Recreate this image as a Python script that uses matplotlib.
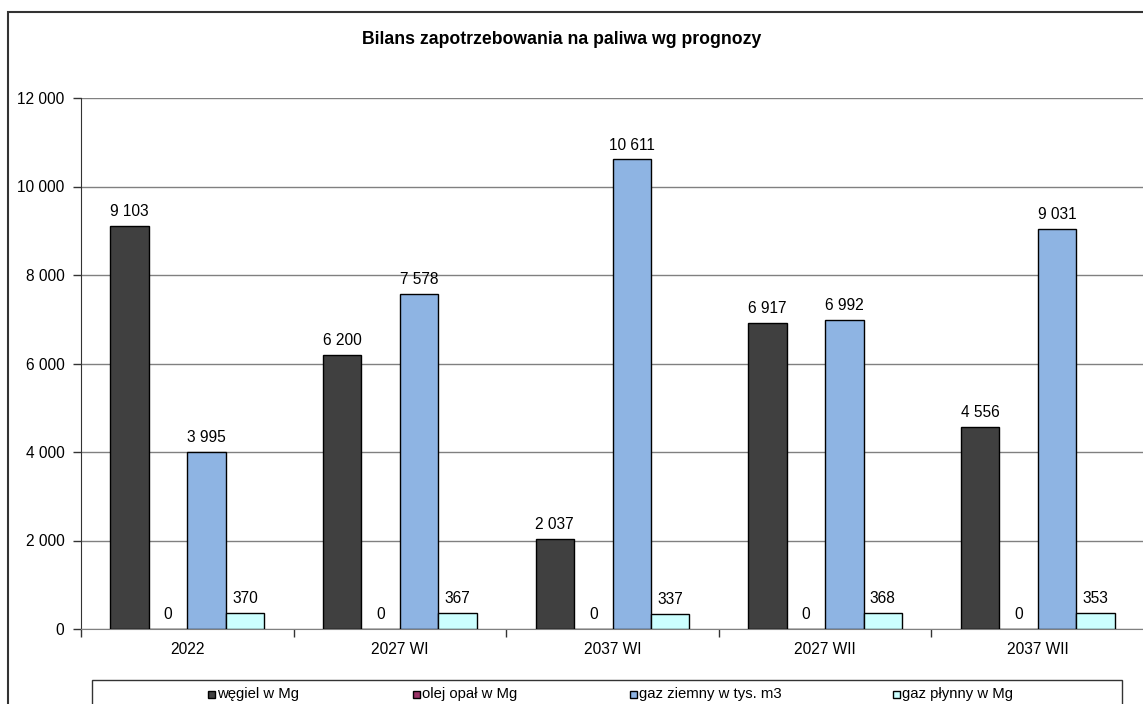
import matplotlib
matplotlib.use("Agg")
import matplotlib.pyplot as plt
from matplotlib.patches import Rectangle
from matplotlib.ticker import FuncFormatter, FixedLocator
import numpy as np

plt.rcParams['font.family'] = ['Liberation Sans', 'DejaVu Sans']

categories = ['2022', '2027 WI', '2037 WI', '2027 WII', '2037 WII']
wegiel = [9103, 6200, 2037, 6917, 4556]
olej = [0, 0, 0, 0, 0]
gaz_ziemny = [3995, 7578, 10611, 6992, 9031]
gaz_plynny = [370, 367, 337, 368, 353]
series_labels = ['węgiel w Mg', 'olej opał w Mg', 'gaz ziemny w tys. m3', 'gaz płynny w Mg']
colors = ['#404040', '#993366', '#8EB4E3', '#CCFFFF']
title = 'Bilans zapotrzebowania na paliwa wg prognozy'

W, H = 1143, 704
fig = plt.figure(figsize=(W / 100, H / 100), dpi=100)

# outer chart border (runs off right/bottom like the original)
fig.patches.append(Rectangle((8 / W, -0.1), 1.2, 1 - 12 / H + 0.1,
                             transform=fig.transFigure, fill=False,
                             edgecolor='#333333', lw=1.5))

ax = fig.add_axes([81 / W, 1 - 629 / H, (1144 - 81) / W, (629 - 98) / H])

x = np.arange(len(categories))
bw = 0.181
allseries = [wegiel, olej, gaz_ziemny, gaz_plynny]
for i, (vals, col) in enumerate(zip(allseries, colors)):
    pos = x + (i - 1.5) * bw
    bars = ax.bar(pos, vals, bw, color=col, edgecolor='black', linewidth=1, zorder=3)
    for b, v in zip(bars, vals):
        lab = '{:,}'.format(v).replace(',', ' ')
        ax.annotate(lab, (b.get_x() + b.get_width() / 2, v), xytext=(0, 5),
                    textcoords='offset points', ha='center', va='bottom',
                    fontsize=11.2)

ax.set_xlim(-0.5, len(categories) - 0.5)
ax.set_ylim(0, 12000)
ax.set_yticks(range(0, 12001, 2000))
ax.yaxis.set_major_formatter(FuncFormatter(lambda v, p: '{:,}'.format(int(v)).replace(',', ' ')))
ax.yaxis.grid(True, color='#808080', linewidth=1, zorder=0)
ax.tick_params(axis='y', labelsize=11.2, length=6, width=1, color='#333333', pad=6)

ax.set_xticks(x)
ax.set_xticklabels(categories, fontsize=11.2)
ax.tick_params(axis='x', which='major', length=0, pad=9)
ax.xaxis.set_minor_locator(FixedLocator(np.arange(-0.5, len(categories), 1.0)))
ax.tick_params(axis='x', which='minor', length=6, width=1, color='#333333')

for s in ['top', 'right']:
    ax.spines[s].set_visible(False)
ax.spines['left'].set_color('#333333')
ax.spines['bottom'].set_color('#808080')

fig.text(562 / W, 1 - 40 / H, title, ha='center', va='center',
         fontsize=12.7, fontweight='bold')

# legend box (bottom, partly cut off as in original)
fig.patches.append(Rectangle((92 / W, -0.05), (1122 - 92) / W, 0.05 + 1 - 680 / H,
                             transform=fig.transFigure, fill=False,
                             edgecolor='#333333', lw=1))
leg_x = [208, 413, 630, 893]
for lx, lab, col in zip(leg_x, series_labels, colors):
    fig.patches.append(Rectangle((lx / W, 1 - 698 / H), 7 / W, 7 / H,
                                 transform=fig.transFigure, facecolor=col,
                                 edgecolor='black', lw=1))
    fig.text((lx + 9) / W, 1 - 694 / H, lab, ha='left', va='center', fontsize=10.7)

fig.savefig('out.png', dpi=100)
